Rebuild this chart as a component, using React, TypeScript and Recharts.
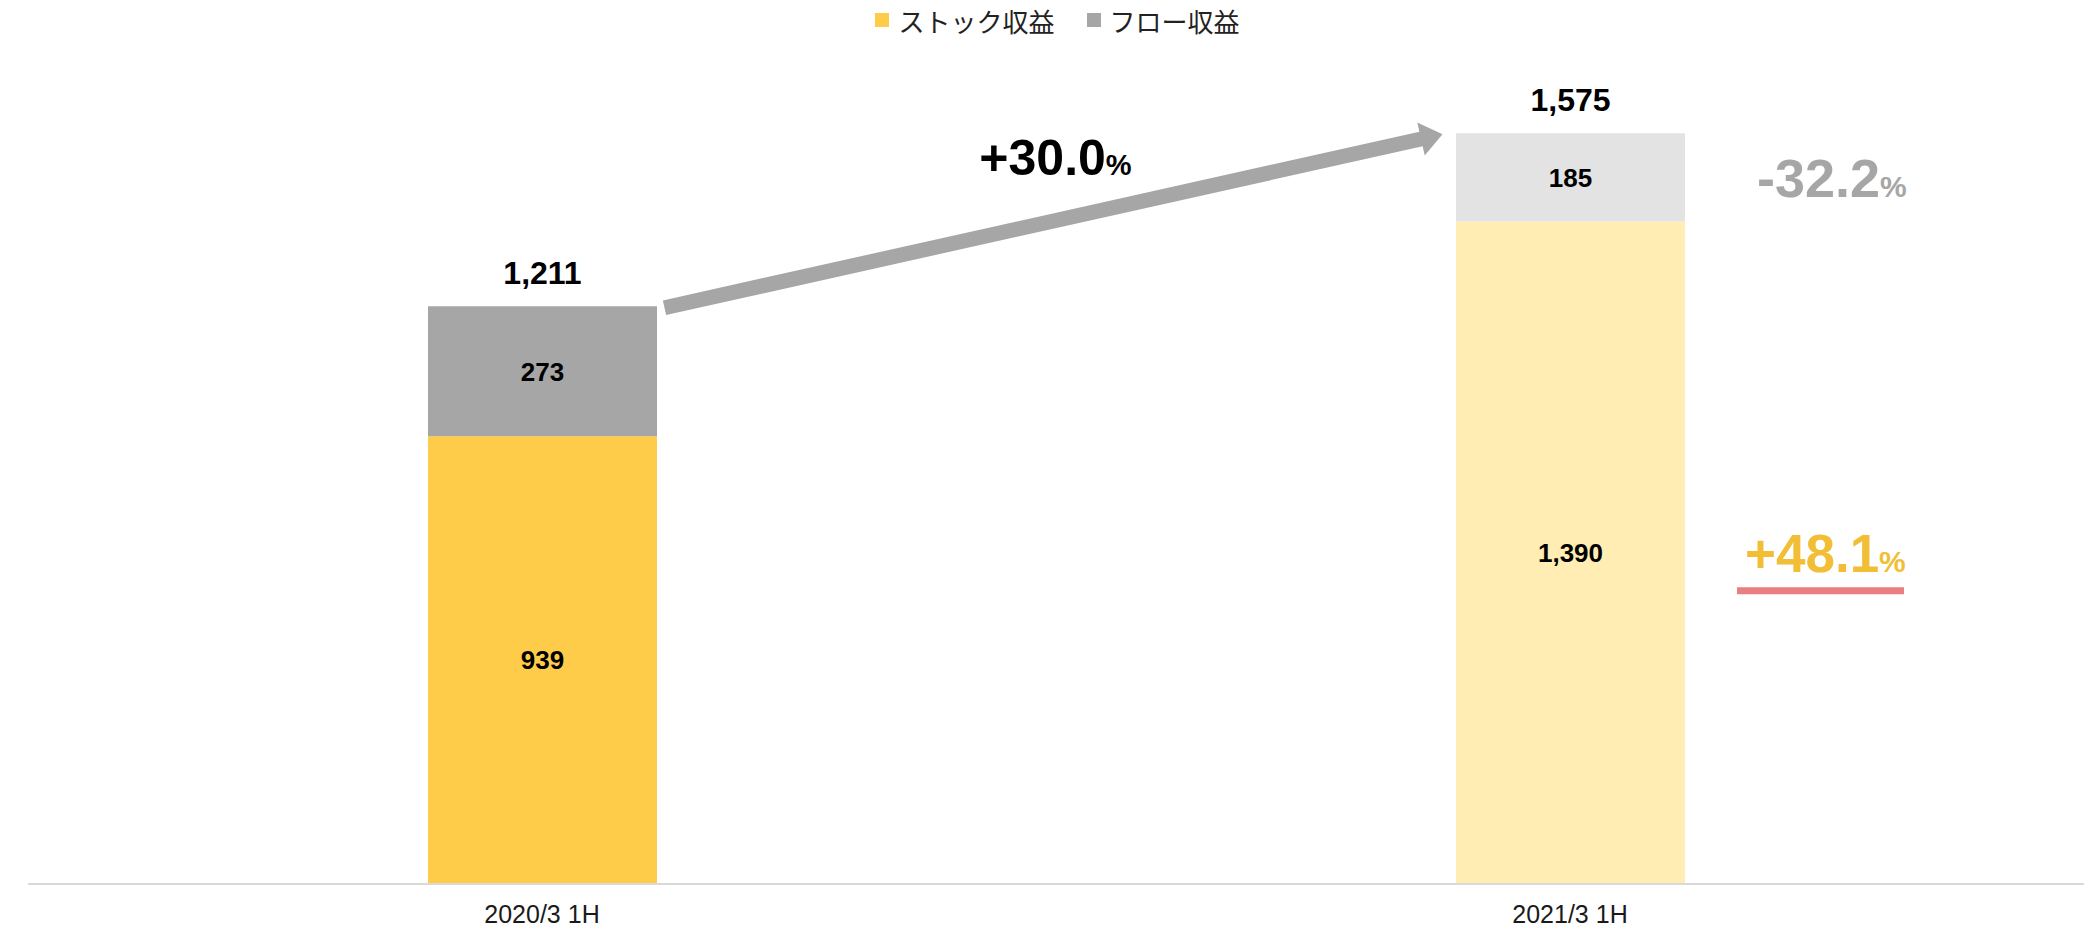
import {
  BarChart,
  Bar,
  XAxis,
  YAxis,
  Legend,
  LabelList,
  Cell,
  ReferenceLine,
} from 'recharts'

const periods = ['2020/3 1H', '2021/3 1H']
const stockRevenue = [939, 1390]
const flowRevenue = [273, 185]
const totalRevenue = [1211, 1575]
const seriesNames = ['ストック収益', 'フロー収益']
const totalChange = '+30.0'
const stockChange = '+48.1'
const flowChange = '-32.2'

const STOCK_COLORS = ['#FFCC4A', '#FFEDB3']
const FLOW_COLORS = ['#A6A6A6', '#E3E3E3']
const NUM_FONT = '"Liberation Sans", Arial, sans-serif'
const BAR_SIZE = 229

const rows = periods.map((period, i) => ({
  period,
  stock: stockRevenue[i],
  flow: flowRevenue[i],
}))

const fmt = (v: number) => v.toLocaleString('en-US')

function LegendContent() {
  const colors = [STOCK_COLORS[0], FLOW_COLORS[0]]
  return (
    <div
      style={{
        width: 2089,
        height: 40,
        display: 'flex',
        alignItems: 'center',
        justifyContent: 'center',
        paddingLeft: 26,
        boxSizing: 'border-box',
        fontFamily: '"Noto Sans CJK JP", sans-serif',
        fontSize: 26,
        color: '#222',
      }}
    >
      {seriesNames.map((name, i) => (
        <div key={name} style={{ display: 'flex', alignItems: 'center', marginLeft: i ? 32 : 0 }}>
          <span style={{ width: 14, height: 14, background: colors[i], marginRight: 9 }} />
          <span>{name}</span>
        </div>
      ))}
    </div>
  )
}

// eslint-disable-next-line @typescript-eslint/no-explicit-any
function boxOf(props: any) {
  return props.viewBox ?? props
}

// eslint-disable-next-line @typescript-eslint/no-explicit-any
function TotalLabel(props: any) {
  const { x, y, width } = boxOf(props)
  return (
    <text
      x={x + width / 2}
      y={y - 22}
      textAnchor="middle"
      fontFamily={NUM_FONT}
      fontSize={32}
      fontWeight="bold"
      fill="#000"
    >
      {fmt(totalRevenue[props.index])}
    </text>
  )
}

function changeLabel(text: string, color: string, dx: number, size: number, underline?: string) {
  // eslint-disable-next-line @typescript-eslint/no-explicit-any
  return function ChangeLabel(props: any) {
    if (props.index !== 1) return null
    const { x, y, width, height } = boxOf(props)
    const cy = y + height / 2
    const right = x + width
    return (
      <g>
        <text
          x={right + dx}
          y={cy + size * 0.36}
          fontFamily={NUM_FONT}
          fontSize={size}
          fontWeight="bold"
          fill={color}
        >
          {text}
          <tspan fontSize={30}>%</tspan>
        </text>
        {underline && (
          <line
            x1={right + 52}
            x2={right + 219}
            y1={cy + 38}
            y2={cy + 38}
            stroke={underline}
            strokeWidth={7}
          />
        )}
      </g>
    )
  }
}

// arrow between the two bar tops, with the growth rate above it
// eslint-disable-next-line @typescript-eslint/no-explicit-any
function GrowthArrow(props: any) {
  const { x1, y1, x2, y2 } = props
  const tx = x1 + BAR_SIZE / 2 + 8
  const ty = y1 + 1
  const hx = x2 - BAR_SIZE / 2 - 13
  const hy = y2 + 1
  const len = Math.hypot(hx - tx, hy - ty)
  const ux = (hx - tx) / len
  const uy = (hy - ty) / len
  const nx = -uy
  const ny = ux
  const shaft = 7.5
  const head = 17
  const headLen = 22
  const bx = hx - ux * headLen
  const by = hy - uy * headLen
  const pts = [
    [tx + nx * shaft, ty + ny * shaft],
    [bx + nx * shaft, by + ny * shaft],
    [bx + nx * head, by + ny * head],
    [hx, hy],
    [bx - nx * head, by - ny * head],
    [bx - nx * shaft, by - ny * shaft],
    [tx - nx * shaft, ty - ny * shaft],
  ]
  const mx = (tx + hx) / 2
  const my = (ty + hy) / 2
  return (
    <g>
      <polygon points={pts.map((p) => p.join(',')).join(' ')} fill="#A6A6A6" />
      <text
        x={mx + 2}
        y={my - 46}
        textAnchor="middle"
        fontFamily={NUM_FONT}
        fontSize={50}
        fontWeight="bold"
        fill="#000"
      >
        {totalChange}
        <tspan fontSize={29}>%</tspan>
      </text>
    </g>
  )
}

export default function App() {
  return (
    <div style={{ position: 'absolute', left: 0, top: 0, width: 2089, height: 929, background: '#fff' }}>
      <BarChart
        width={2089}
        height={929}
        data={rows}
        margin={{ top: 5, right: 5, bottom: 0, left: 28 }}
      >
        <XAxis
          dataKey="period"
          axisLine={{ stroke: '#D9D9D9', strokeWidth: 2 }}
          tickLine={false}
          tickMargin={15}
          height={45}
          interval={0}
          tick={{ fill: '#1a1a1a', fontSize: 25, fontFamily: NUM_FONT }}
        />
        <YAxis hide domain={[0, 1760]} />
        <Legend
          verticalAlign="top"
          content={<LegendContent />}
          wrapperStyle={{ top: 0, left: 0, width: 2089 }}
        />
        <Bar dataKey="stock" stackId="a" barSize={BAR_SIZE} isAnimationActive={false}>
          {rows.map((r, i) => (
            <Cell key={r.period} fill={STOCK_COLORS[i]} />
          ))}
          <LabelList
            dataKey="stock"
            position="center"
            formatter={(v: number) => fmt(v)}
            fill="#000"
            fontSize={26}
            fontWeight="bold"
            fontFamily={NUM_FONT}
          />
          <LabelList dataKey="stock" content={changeLabel(stockChange, '#F2BE36', 60, 53, '#E88080')} />
        </Bar>
        <Bar dataKey="flow" stackId="a" barSize={BAR_SIZE} isAnimationActive={false}>
          {rows.map((r, i) => (
            <Cell key={r.period} fill={FLOW_COLORS[i]} />
          ))}
          <LabelList
            dataKey="flow"
            position="center"
            formatter={(v: number) => fmt(v)}
            fill="#000"
            fontSize={26}
            fontWeight="bold"
            fontFamily={NUM_FONT}
          />
          <LabelList dataKey="flow" content={<TotalLabel />} />
          <LabelList dataKey="flow" content={changeLabel(flowChange, '#A6A6A6', 72, 54)} />
        </Bar>
        <ReferenceLine
          segment={[
            { x: periods[0], y: totalRevenue[0] },
            { x: periods[1], y: totalRevenue[1] },
          ]}
          ifOverflow="visible"
          shape={<GrowthArrow />}
        />
      </BarChart>
    </div>
  )
}
